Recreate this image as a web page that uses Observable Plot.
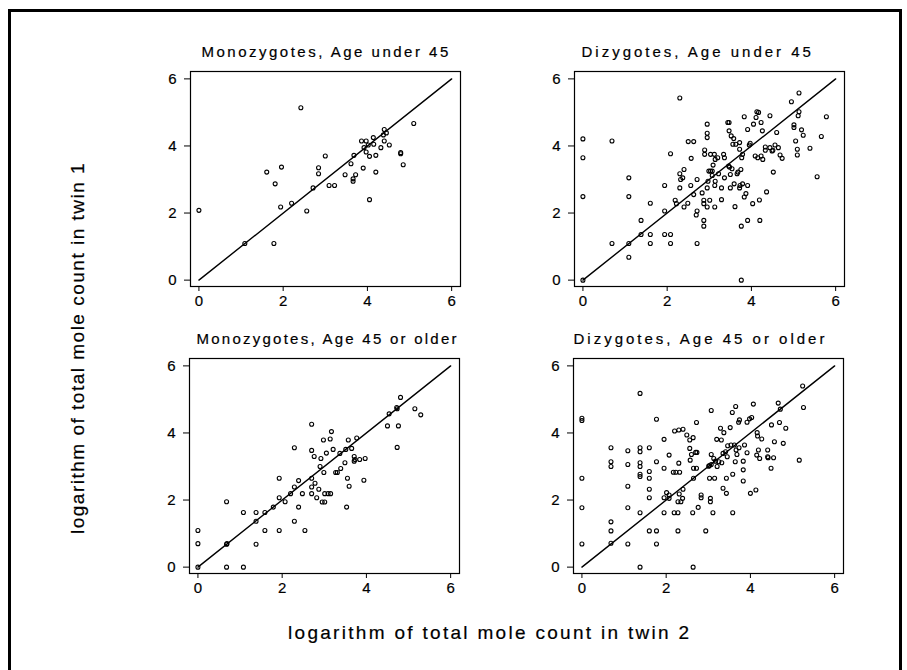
<!DOCTYPE html>
<html>
<head>
<meta charset="utf-8">
<script src="https://cdn.jsdelivr.net/npm/d3@7"></script>
<script src="https://cdn.jsdelivr.net/npm/@observablehq/plot@0.6"></script>
<style>
  html, body { margin: 0; padding: 0; background: #fff; }
  #root { position: relative; width: 907px; height: 670px; overflow: hidden; background: #fff;
          font-family: "Liberation Sans", Arial, sans-serif; color: #000; }
  #border { position: absolute; left: 8px; top: 9px; width: 894px; height: 700px;
            border: 3px solid #000; box-sizing: border-box; }
  .panel { position: absolute; }
  .panel svg text { stroke: #000; stroke-width: 0.2px; }
  .axlab { position: absolute; left: 0; top: 0; white-space: nowrap; font-size: 19px; line-height: 19px;
           transform-origin: 0 0; -webkit-text-stroke: 0.2px #000; }
</style>
</head>
<body>
<div id="root"><div id="border"></div></div>
<script>
// ---- data (log mole counts: x = twin 2, y = twin 1) ----
const panelTitles = [
  "Monozygotes, Age under 45",
  "Dizygotes, Age under 45",
  "Monozygotes, Age 45 or older",
  "Dizygotes, Age 45 or older"
];
const tickValues = [0, 2, 4, 6];
const xAxisLabel = "logarithm of total mole count in twin 2";
const yAxisLabel = "logarithm of total mole count in twin 1";
const identityLine = [[0, 0], [6, 6]];

const mzUnder45 = [
  [0,2.08],[1.09,1.09],[1.78,1.09],[1.61,3.22],[1.81,2.87],[1.96,3.37],[1.94,2.18],[2.2,2.29],
  [2.42,5.14],[2.56,2.06],[2.71,2.75],[2.84,3.35],[2.84,3.17],[3.0,3.7],[3.09,2.82],[3.22,2.82],
  [3.47,3.14],[3.61,3.47],[3.68,3.72],[3.66,3.02],[3.66,2.95],[3.72,3.14],[3.86,4.15],[3.97,4.15],
  [3.9,3.34],[3.92,3.95],[3.97,3.82],[4.02,4.03],[4.05,3.69],[4.05,2.4],[4.14,4.25],[4.15,4.05],
  [4.2,3.72],[4.2,3.22],[4.32,3.95],[4.4,4.49],[4.4,4.15],[4.45,4.39],[4.52,4.03],[4.79,3.8],
  [4.79,3.77],[4.85,3.44],[5.1,4.67],[4.38,4.33]
];
const dzUnder45 = [
  [0,0],[0,4.21],[0,3.65],[0,2.49],[0.69,4.15],[0.69,1.09],[1.09,3.05],[1.09,2.49],[1.09,1.09],
  [1.09,0.68],[1.38,1.78],[1.38,1.36],[1.6,2.29],[1.6,1.36],[1.6,1.09],[1.94,2.82],[1.94,2.06],
  [1.94,1.36],[2.08,1.36],[2.08,1.09],[2.08,3.77],[2.19,2.38],[2.22,2.28],[2.3,5.43],[2.3,3.17],
  [2.3,2.75],[2.32,3.0],[2.37,3.05],[2.4,3.3],[2.4,2.18],[2.49,2.29],[2.5,4.13],[2.56,2.82],
  [2.57,3.63],[2.63,4.13],[2.63,2.55],[2.71,3.0],[2.69,1.94],[2.71,2.06],[2.71,1.09],[2.83,2.6],
  [2.87,2.38],[2.87,2.28],[2.87,1.78],[2.87,1.61],[2.89,3.75],[2.89,3.88],[2.95,4.65],[2.95,4.38],
  [2.95,4.25],[2.95,2.75],[2.95,2.18],[2.97,2.95],[2.99,3.25],[3.01,2.38],[3.03,3.25],[3.07,3.25],
  [3.07,3.12],[3.03,3.75],[3.09,3.43],[3.12,3.75],[3.14,3.6],[3.13,2.82],[3.13,2.18],[3.14,2.95],
  [3.2,3.65],[3.22,3.17],[3.29,2.4],[3.29,2.75],[3.34,3.75],[3.36,3.65],[3.36,3.05],[3.44,4.7],
  [3.47,4.7],[3.47,4.45],[3.46,3.4],[3.48,3.37],[3.5,2.75],[3.5,3.15],[3.52,4.3],[3.54,3.32],
  [3.58,4.22],[3.56,4.05],[3.59,2.87],[3.61,2.19],[3.63,4.05],[3.66,3.17],[3.68,3.22],[3.72,3.9],
  [3.72,4.1],[3.72,2.75],[3.73,2.82],[3.75,3.3],[3.76,1.61],[3.76,0],[3.77,3.65],[3.79,3.75],
  [3.79,2.87],[3.83,4.87],[3.83,2.48],[3.87,2.58],[3.91,2.82],[3.91,1.78],[3.91,4.49],[3.95,4.03],
  [3.97,4.08],[4.03,2.28],[4.05,4.65],[4.09,3.7],[4.11,4.85],[4.13,5.02],[4.17,5.0],[4.15,3.65],
  [4.19,2.39],[4.2,1.78],[4.23,4.7],[4.23,3.7],[4.26,4.45],[4.27,3.6],[4.36,2.63],[4.33,3.87],
  [4.33,3.97],[4.44,4.9],[4.44,3.95],[4.49,3.85],[4.51,3.87],[4.52,3.22],[4.56,4.03],[4.6,4.4],
  [4.64,3.95],[4.68,3.73],[4.73,3.63],[4.95,5.32],[5.01,4.63],[5.01,4.55],[5.05,4.15],[5.09,3.9],
  [5.09,3.73],[5.11,4.9],[5.13,5.58],[5.13,5.02],[5.19,4.48],[5.23,4.32],[5.39,3.93],[5.56,3.08],
  [5.66,4.28],[5.78,4.87]
];
const mzOver45 = [
  [0,0],[0,0.7],[0,1.09],[0.68,0],[0.68,0.68],[0.69,0.7],[0.68,1.95],[1.08,0],[1.08,1.63],
  [1.38,1.63],[1.38,0.68],[1.38,1.37],[1.59,1.09],[1.59,1.63],[1.79,1.79],[1.93,2.65],[1.93,2.07],
  [1.93,1.09],[2.07,1.95],[2.2,2.19],[2.29,3.56],[2.29,1.37],[2.29,2.39],[2.39,2.58],[2.39,1.79],
  [2.48,2.19],[2.54,1.09],[2.7,4.26],[2.7,3.48],[2.7,2.65],[2.7,2.39],[2.7,2.19],[2.76,3.3],
  [2.78,2.5],[2.82,2.07],[2.87,2.32],[2.9,3.0],[2.92,3.24],[2.95,1.94],[2.98,3.79],[2.99,2.82],
  [3.01,2.19],[3.01,1.94],[3.05,3.4],[3.09,2.19],[3.14,3.82],[3.15,2.19],[3.17,4.04],[3.21,3.51],
  [3.27,2.82],[3.31,2.82],[3.37,3.39],[3.39,2.94],[3.49,3.11],[3.51,3.51],[3.55,2.65],[3.53,1.79],
  [3.57,3.79],[3.59,2.41],[3.65,3.54],[3.71,3.3],[3.71,3.16],[3.73,3.21],[3.77,3.85],[3.84,3.21],
  [3.94,2.59],[3.97,3.24],[4.5,4.21],[4.54,4.57],[4.72,4.76],[4.73,4.72],[4.76,4.21],[4.73,3.57],
  [4.81,5.06],[5.15,4.72],[5.29,4.54]
];
const dzOver45 = [
  [0,4.44],[0,4.37],[0,2.65],[0,1.77],[0,0.69],[0.69,0.71],[0.69,1.08],[0.69,1.35],[0.69,3.56],
  [0.69,3.14],[0.69,3.0],[1.09,0.69],[1.09,1.77],[1.09,2.41],[1.09,3.06],[1.09,3.47],[1.38,0],
  [1.38,5.18],[1.38,3.56],[1.38,3.44],[1.38,3.11],[1.38,3.0],[1.38,2.77],[1.38,2.7],[1.38,1.62],
  [1.6,3.56],[1.6,2.85],[1.6,2.65],[1.6,2.32],[1.6,2.07],[1.6,1.08],[1.77,4.41],[1.77,3.14],
  [1.77,1.08],[1.77,0.69],[1.95,3.81],[1.95,2.95],[1.95,2.07],[1.95,1.62],[2.01,2.22],[2.07,3.34],
  [2.07,2.15],[2.07,2.05],[2.17,2.83],[2.19,1.62],[2.2,4.06],[2.23,2.83],[2.28,1.08],[2.28,1.62],
  [2.28,1.95],[2.3,4.09],[2.3,3.1],[2.31,2.18],[2.32,2.83],[2.35,1.95],[2.39,2.05],[2.4,4.11],
  [2.4,2.32],[2.49,3.94],[2.56,3.79],[2.56,3.54],[2.57,3.19],[2.6,3.36],[2.63,1.62],[2.64,0],
  [2.64,3.86],[2.65,2.95],[2.65,2.65],[2.7,3.42],[2.72,2.95],[2.72,4.31],[2.73,3.42],[2.76,1.78],
  [2.83,2.15],[2.83,2.07],[2.94,1.08],[3.01,3.01],[3.03,3.03],[3.03,2.65],[3.05,2.05],[3.05,1.95],
  [3.07,4.67],[3.07,3.36],[3.07,3.06],[3.11,1.62],[3.13,3.24],[3.15,2.65],[3.17,3.16],[3.2,3.81],
  [3.21,3.0],[3.25,3.14],[3.29,4.14],[3.31,3.79],[3.32,3.11],[3.35,3.39],[3.35,2.35],[3.37,4.01],
  [3.41,3.44],[3.43,2.65],[3.43,2.2],[3.45,3.29],[3.46,3.62],[3.52,4.16],[3.54,3.64],[3.57,4.61],
  [3.58,2.77],[3.58,1.62],[3.62,3.64],[3.64,3.14],[3.65,4.79],[3.66,3.49],[3.68,3.36],[3.72,4.32],
  [3.73,3.56],[3.74,4.39],[3.83,3.16],[3.83,2.9],[3.83,2.57],[3.86,3.64],[3.92,3.41],[3.92,4.32],
  [3.98,4.42],[4.0,2.2],[4.03,4.46],[4.07,4.86],[4.13,2.3],[4.15,3.34],[4.16,4.01],[4.17,3.91],
  [4.19,3.49],[4.22,3.24],[4.27,3.82],[4.41,3.49],[4.41,3.29],[4.42,3.26],[4.49,2.95],[4.5,4.24],
  [4.55,3.26],[4.57,3.74],[4.66,4.89],[4.69,4.31],[4.71,4.71],[4.78,3.69],[4.84,4.14],[5.16,3.19],
  [5.24,5.4],[5.26,4.76]
];

const panelData = [mzUnder45, dzUnder45, mzOver45, dzOver45];

// ---- layout (styles/positions) ----
const layout = [
  {left: 150, top: 31, dx: 11, ls: 2.5},
  {left: 534, top: 31, dx: 7, ls: 3.0},
  {left: 149, top: 318, dx: 7, ls: 2.25},
  {left: 533, top: 318, dx: 0, ls: 3.0}
];

const root = document.getElementById("root");

panelData.forEach((pts, i) => {
  const L = layout[i];
  const chart = Plot.plot({
    width: 320, height: 290,
    marginLeft: 40, marginRight: 10, marginTop: 40, marginBottom: 35,
    style: {fontFamily: "'Liberation Sans', Arial, sans-serif", fontSize: "15px", background: "transparent", overflow: "visible", color: "#000"},
    x: {domain: [-0.2, 6.21], ticks: tickValues, tickSize: 5, tickPadding: 4, label: null, tickFormat: d3.format("d")},
    y: {domain: [-0.19, 6.22], ticks: tickValues, tickSize: 6, tickPadding: 8, label: null, tickFormat: d3.format("d")},
    marks: [
      Plot.frame({stroke: "#000", strokeWidth: 1.2}),
      Plot.line(identityLine, {x: d => d[0], y: d => d[1], stroke: "#000", strokeWidth: 1.4}),
      Plot.dot(pts, {x: d => d[0], y: d => d[1], r: 2, stroke: "#000", strokeWidth: 1.1, fill: "none"}),
      Plot.text([panelTitles[i]], {frameAnchor: "top-left", textAnchor: "start", lineAnchor: "bottom",
        dx: L.dx, dy: -15, fontSize: 15, fill: "#000"})
    ]
  });
  d3.select(chart).selectAll("g[aria-label=text] text").style("letter-spacing", L.ls + "px");
  const wrap = document.createElement("div");
  wrap.className = "panel";
  wrap.style.left = L.left + "px";
  wrap.style.top = L.top + "px";
  wrap.appendChild(chart);
  root.appendChild(wrap);
});

const xl = document.createElement("div");
xl.className = "axlab";
xl.textContent = xAxisLabel;
xl.style.letterSpacing = "2.3px";
xl.style.transform = "translate(288px, 623px)";
root.appendChild(xl);

const yl = document.createElement("div");
yl.className = "axlab";
yl.textContent = yAxisLabel;
yl.style.letterSpacing = "1.5px";
yl.style.transform = "translate(68px, 534px) rotate(-90deg)";
root.appendChild(yl);
</script>
</body>
</html>
